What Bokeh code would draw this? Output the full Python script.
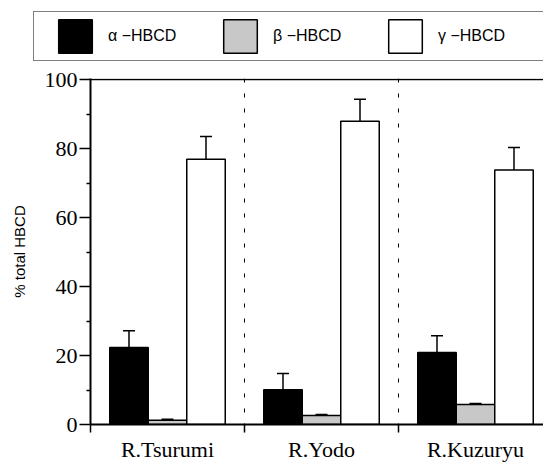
from bokeh.plotting import figure
from bokeh.layouts import column
from bokeh.models import (Range1d, FixedTicker, Legend, LegendItem,
                          Span, Whisker, TeeHead, ColumnDataSource)
from bokeh.embed import file_html
from bokeh.resources import INLINE
import numpy as np

rivers = ["R.Tsurumi", "R.Yodo", "R.Kuzuryu"]
isomers = ["α −HBCD", "β −HBCD", "γ −HBCD"]
alpha_mean = [22.3, 10.1, 20.9]
alpha_err = [4.9, 4.7, 4.8]
beta_mean = [1.2, 2.6, 5.8]
beta_err = [0.3, 0.3, 0.3]
gamma_mean = [76.9, 87.9, 73.8]
gamma_err = [6.6, 6.4, 6.5]
y_ticks = [0, 20, 40, 60, 80, 100]
y_minor = [10, 30, 50, 70, 90]

means = [alpha_mean, beta_mean, gamma_mean]
errs = [alpha_err, beta_err, gamma_err]
fills = ["#000000", "#c8c8c8", "#ffffff"]
offsets = [0.25, 0.5, 0.75]

idx = np.arange(len(rivers))

# ---------------- main chart ----------------
p = figure(width=543, height=401, output_backend="svg", toolbar_location=None,
           x_range=Range1d(0, 2.9416), y_range=Range1d(0, 100.3),
           min_border_left=90, min_border_right=0, min_border_top=15, min_border_bottom=38)
p.frame_align = False
p.xgrid.visible = False
p.ygrid.visible = False
p.outline_line_color = None

xa = p.xaxis[0]
xa.ticker = FixedTicker(ticks=list(idx + 0.5), minor_ticks=list(np.arange(len(rivers) + 1)))
xa.major_label_overrides = {float(i + 0.5): r for i, r in enumerate(rivers)}
xa.axis_line_width = 2
xa.axis_line_color = "black"
xa.major_tick_out = 0
xa.major_tick_in = 0
xa.minor_tick_out = 8
xa.minor_tick_in = 0
xa.minor_tick_line_width = 1.5
xa.minor_tick_line_color = "black"
xa.major_label_standoff = 4
xa.major_label_text_font = "Liberation Serif"
xa.major_label_text_font_size = "22px"
xa.major_label_text_color = "black"

ya = p.yaxis[0]
ya.ticker = FixedTicker(ticks=y_ticks, minor_ticks=y_minor)
ya.axis_line_width = 2
ya.axis_line_color = "black"
ya.major_tick_out = 11
ya.major_tick_in = 0
ya.major_tick_line_width = 1.5
ya.major_tick_line_color = "black"
ya.minor_tick_out = 4
ya.minor_tick_in = 0
ya.minor_tick_line_width = 1.5
ya.minor_tick_line_color = "black"
ya.major_label_standoff = 2
ya.major_label_text_font = "Liberation Serif"
ya.major_label_text_font_size = "22px"
ya.major_label_text_color = "black"
ya.axis_label = "% total HBCD"
ya.axis_label_text_font = "Liberation Sans"
ya.axis_label_text_font_size = "15px"
ya.axis_label_text_font_style = "normal"
ya.axis_label_text_color = "black"
ya.axis_label_standoff = 14

# top frame line at the 100 % level
p.add_layout(Span(location=y_ticks[-1], dimension="width", line_color="black", line_width=1.5))

# dashed separators between rivers
for i in range(1, len(rivers)):
    p.add_layout(Span(location=float(i), dimension="height", line_color="black",
                      line_width=1, line_dash="4 11"))

for m, e, f, o in zip(means, errs, fills, offsets):
    xs = idx + o
    p.vbar(x=xs, top=m, bottom=0, width=0.25, fill_color=f, line_color="black", line_width=1.5)
    src = ColumnDataSource(dict(x=xs, upper=np.array(m) + np.array(e), lower=np.array(m) - np.array(e)))
    p.add_layout(Whisker(base="x", upper="upper", lower="lower", source=src,
                         line_width=1.5, line_color="black",
                         upper_head=TeeHead(size=12, line_width=1.5, line_color="black"),
                         lower_head=TeeHead(size=12, line_width=1.5, line_color="black")))

# ---------------- legend strip ----------------
lg = figure(width=543, height=63, output_backend="svg", toolbar_location=None,
            x_range=Range1d(0, 1), y_range=Range1d(0, 1),
            min_border_left=0, min_border_right=0, min_border_top=0, min_border_bottom=0,
            x_axis_type=None, y_axis_type=None)
lg.frame_align = False
lg.xgrid.visible = False
lg.ygrid.visible = False
lg.outline_line_color = None

items = []
for lab, m, f, o in zip(isomers, means, fills, offsets):
    # hidden proxies of the chart's bars, used only for their legend swatches
    r = lg.vbar(x=idx + o, top=m, width=0.25, fill_color=f, line_color="black", line_width=1.5)
    r.visible = False
    items.append(LegendItem(label=lab, renderers=[r]))
# invisible spacer item that carries the open right side of the legend box past the edge
spacer = lg.vbar(x=idx, top=alpha_mean, width=0.25, fill_alpha=0, line_alpha=0)
spacer.visible = False
items.append(LegendItem(label=" ", renderers=[spacer]))

legend = Legend(items=items, orientation="horizontal", location=(33, 2),
                glyph_width=42, glyph_height=42, label_standoff=12, label_width=111, spacing=0,
                padding=3, margin=0, border_line_color="black", border_line_width=1.5,
                background_fill_color="white", background_fill_alpha=1,
                inactive_fill_alpha=0,
                title=" ", title_location="left", title_text_font_size="13px", title_standoff=2,
                label_text_font="Liberation Sans", label_text_font_size="16px", label_text_color="black")
lg.add_layout(legend)

layout = column(lg, p, spacing=0)
open("out.html", "w").write(file_html(layout, INLINE))
